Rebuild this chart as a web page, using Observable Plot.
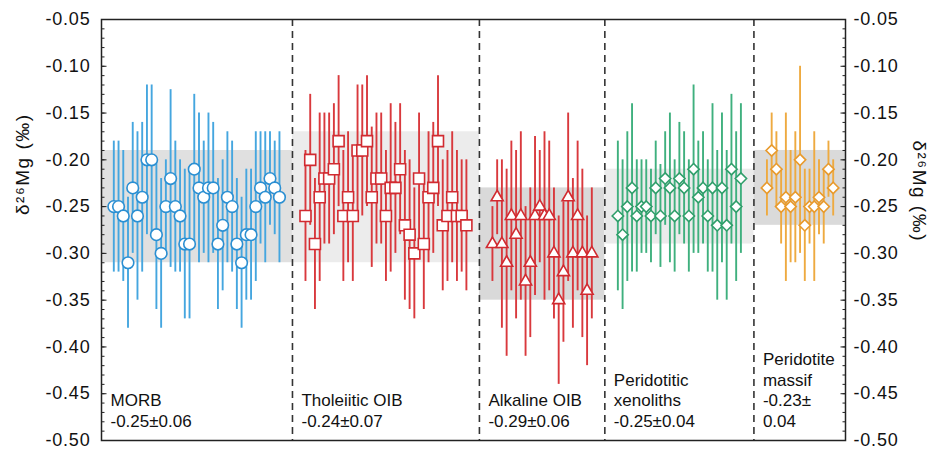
<!DOCTYPE html>
<html><head><meta charset="utf-8">
<script src="https://cdn.jsdelivr.net/npm/d3@7"></script>
<script src="https://cdn.jsdelivr.net/npm/@observablehq/plot@0.6"></script>
<style>body{margin:0;background:#fff}</style>
</head><body><div id="chart"></div>
<script>
// ---- data ----
const groups = ["MORB", "Tholeiitic OIB", "Alkaline OIB", "Peridotitic xenoliths", "Peridotite massif"];
const groupLabels = ["MORB\n-0.25±0.06", "Tholeiitic OIB\n-0.24±0.07", "Alkaline OIB\n-0.29±0.06", "Peridotitic\nxenoliths\n-0.25±0.04", "Peridotite\nmassif\n-0.23±\n0.04"];
const groupMeans = [-0.25, -0.24, -0.29, -0.25, -0.23];
const groupSD = [0.06, 0.07, 0.06, 0.04, 0.04];

const morbVal = [-0.25,-0.25,-0.26,-0.31,-0.23,-0.26,-0.24,-0.20,-0.20,-0.28,-0.30,-0.25,-0.22,-0.25,-0.26,-0.29,-0.29,-0.21,-0.23,-0.24,-0.23,-0.23,-0.29,-0.27,-0.24,-0.25,-0.29,-0.31,-0.28,-0.28,-0.25,-0.23,-0.24,-0.22,-0.23,-0.24];
const morbErr = [0.07,0.07,0.07,0.07,0.07,0.09,0.08,0.08,0.08,0.08,0.08,0.05,0.095,0.07,0.06,0.08,0.08,0.08,0.08,0.06,0.08,0.07,0.07,0.07,0.07,0.07,0.07,0.07,0.07,0.07,0.08,0.06,0.07,0.05,0.05,0.07];

const tholVal = [-0.26,-0.20,-0.29,-0.24,-0.22,-0.22,-0.21,-0.18,-0.26,-0.24,-0.26,-0.19,-0.19,-0.18,-0.24,-0.22,-0.22,-0.26,-0.23,-0.23,-0.21,-0.27,-0.28,-0.30,-0.22,-0.29,-0.24,-0.23,-0.18,-0.27,-0.26,-0.24,-0.26,-0.26,-0.27];
const tholErr = [0.07,0.07,0.07,0.09,0.07,0.07,0.07,0.07,0.07,0.07,0.07,0.07,0.07,0.07,0.075,0.07,0.07,0.07,0.09,0.07,0.07,0.08,0.08,0.07,0.07,0.07,0.07,0.07,0.07,0.07,0.07,0.07,0.07,0.06,0.07];

const alkVal = [-0.29,-0.24,-0.29,-0.31,-0.26,-0.28,-0.26,-0.33,-0.31,-0.26,-0.25,-0.26,-0.26,-0.30,-0.35,-0.32,-0.24,-0.30,-0.26,-0.30,-0.34,-0.30];
const alkErr = [0.04,0.04,0.09,0.10,0.08,0.09,0.09,0.08,0.08,0.085,0.06,0.09,0.08,0.07,0.09,0.075,0.09,0.08,0.08,0.09,0.08,0.07];

const xenVal = [-0.26,-0.28,-0.25,-0.23,-0.26,-0.25,-0.25,-0.26,-0.23,-0.26,-0.22,-0.23,-0.26,-0.22,-0.23,-0.26,-0.21,-0.24,-0.23,-0.26,-0.23,-0.27,-0.23,-0.27,-0.21,-0.25,-0.22];
const xenErr = [0.08,0.08,0.08,0.09,0.06,0.05,0.05,0.05,0.05,0.055,0.05,0.08,0.06,0.06,0.06,0.06,0.09,0.06,0.06,0.06,0.09,0.08,0.08,0.08,0.08,0.08,0.08];

const masVal = [-0.23,-0.19,-0.21,-0.25,-0.24,-0.25,-0.24,-0.20,-0.27,-0.25,-0.25,-0.24,-0.25,-0.21,-0.23];
const masErr = [0.03,0.04,0.04,0.04,0.09,0.06,0.07,0.10,0.06,0.04,0.08,0.04,0.04,0.03,0.03];

const yTicksMajor = [-0.50,-0.45,-0.40,-0.35,-0.30,-0.25,-0.20,-0.15,-0.10,-0.05];
const yTitle = "δ²⁶Mg (‰)";

// ---- styles ----
const series = [morbVal, tholVal, alkVal, xenVal, masVal];
const errors = [morbErr, tholErr, alkErr, xenErr, masErr];
const symbols = ["circle", "square", "triangle", "diamond2", "diamond2"];
const radii = [5.8, 6.2, 4.5, 5.1, 5.1];
const strokeColors = ["#2b8fd2", "#d12a30", "#d12a30", "#2f9e6a", "#e89a2c"];
const barColors = ["#45a6df", "#d9393d", "#d9393d", "#3fb07e", "#eeaa40"];
const bandFills = ["#e0e0e0", "#ececec", "#d9d9d9", "#ebebeb", "#dadada"];
const font = "'Liberation Sans', Arial, Helvetica, sans-serif";

// ---- layout in sample-index units ----
const pad = 2.6, gap = 5.5;
let cursor = pad, left = 0;
const points = [], bands = [], dividers = [];
groups.forEach((g, gi) => {
  const vals = series[gi];
  vals.forEach((v, i) => points.push({gi, x: cursor + i, v, e: errors[gi][i]}));
  const last = cursor + vals.length - 1;
  const right = gi < groups.length - 1 ? last + gap / 2 : last + pad;
  bands.push({gi, x1: left, x2: right, y1: groupMeans[gi] - groupSD[gi], y2: groupMeans[gi] + groupSD[gi], label: groupLabels[gi]});
  if (gi < groups.length - 1) dividers.push(right);
  left = right;
  cursor = last + gap;
});
const xMax = left;
const yTicksMinor = d3.range(0, 46).map(i => +(-0.5 + i * 0.01).toFixed(2));

const chart = Plot.plot({
  width: 929, height: 449,
  marginLeft: 101, marginRight: 84, marginTop: 19, marginBottom: 9,
  style: {fontFamily: font, background: "white", color: "#111"},
  x: {domain: [0, xMax], axis: null},
  y: {domain: [-0.50, -0.05], axis: null},
  color: {type: "identity"},
  marks: [
    Plot.rect(bands, {x1: "x1", x2: "x2", y1: "y1", y2: "y2", fill: d => bandFills[d.gi]}),
    Plot.ruleX(dividers, {stroke: "#333", strokeWidth: 1.6, strokeDasharray: "7,5"}),
    Plot.ruleX(points, {x: "x", y1: d => d.v - d.e, y2: d => d.v + d.e, stroke: d => barColors[d.gi], strokeWidth: 1.9}),
    ...groups.map((g, gi) => Plot.dot(points.filter(p => p.gi === gi), {
      x: "x", y: "v", symbol: symbols[gi], r: radii[gi], fill: "white",
      stroke: strokeColors[gi], strokeWidth: 1.6
    })),
    Plot.text(bands, {x: "x1", frameAnchor: "bottom", text: "label", textAnchor: "start",
      lineAnchor: "bottom", lineHeight: 1.2, dx: 9, dy: -14, fontSize: 17, fill: "#111"}),
    Plot.axisY(yTicksMinor, {anchor: "left", tickSize: -3.5, tickFormat: () => "", label: null, stroke: "#222"}),
    Plot.axisY(yTicksMinor, {anchor: "right", tickSize: -3.5, tickFormat: () => "", label: null, stroke: "#222"}),
    Plot.axisY(yTicksMajor, {anchor: "left", tickSize: -5.5, tickPadding: 16.5, tickFormat: d => d.toFixed(2), label: null, fontSize: 18, stroke: "#222"}),
    Plot.axisY(yTicksMajor, {anchor: "right", tickSize: -5.5, tickPadding: 13.5, tickFormat: d => d.toFixed(2), label: null, fontSize: 18, stroke: "#222"}),
    Plot.text([yTitle], {text: d => d, frameAnchor: "left", rotate: -90, dx: -79, dy: -15, fontSize: 19, fill: "#111"}),
    Plot.text([yTitle], {text: d => d, frameAnchor: "right", rotate: 90, dx: 74, dy: 12, fontSize: 19, fill: "#111"}),
    Plot.frame({stroke: "#222", strokeWidth: 1.5})
  ]
});
document.getElementById("chart").appendChild(chart);
d3.select(chart).selectAll("g[aria-label='y-axis tick label'] text").style("letter-spacing", "0.8px");
d3.select(chart).selectAll("g[aria-label='text'] text").filter(function () { return this.textContent === yTitle; }).style("letter-spacing", "1.5px");
</script>
</body></html>
